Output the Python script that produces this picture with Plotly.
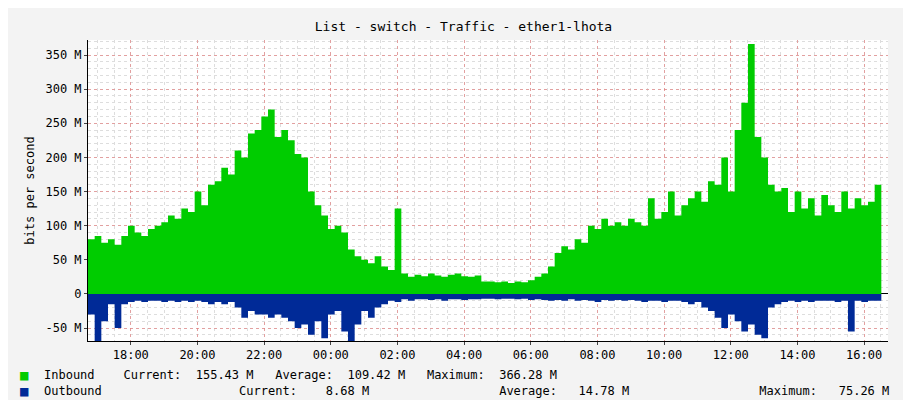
import plotly.graph_objects as go
import pandas as pd

inbound = [80,85,75,80,72,85,100,90,85,95,100,105,115,110,125,120,150,130,160,165,
           185,175,210,200,235,240,260,270,230,240,225,205,200,150,130,115,95,100,90,65,
           55,50,45,55,40,35,125,30,25,28,26,30,27,25,28,30,26,25,27,18,
           18,17,18,16,18,17,20,25,30,40,60,70,65,80,75,100,95,110,100,105,
           100,110,105,100,140,110,120,150,115,130,140,150,135,165,160,200,150,240,280,366,
           230,200,160,150,155,120,150,125,140,115,145,130,120,150,125,140,130,135,160,155]
outbound = [-30,-70,-40,-15,-50,-15,-12,-10,-12,-10,-10,-12,-10,-12,-10,-12,-10,-12,-15,-12,
            -15,-12,-20,-35,-25,-30,-30,-35,-30,-35,-40,-50,-45,-60,-40,-65,-30,-25,-55,-70,
            -45,-25,-35,-20,-15,-10,-12,-8,-10,-8,-8,-9,-8,-10,-8,-8,-9,-8,-8,-7,
            -7,-8,-7,-7,-8,-7,-9,-8,-9,-10,-9,-10,-8,-10,-9,-10,-12,-9,-10,-9,
            -10,-9,-10,-12,-10,-10,-12,-10,-10,-12,-15,-12,-20,-25,-35,-50,-30,-40,-55,-45,
            -60,-65,-20,-15,-12,-10,-12,-10,-12,-10,-10,-10,-12,-10,-55,-10,-12,-10,-10,-9]
times = pd.date_range("2024-01-01 16:43", periods=len(inbound), freq="12min")
tickvals = pd.date_range("2024-01-01 18:00", periods=12, freq="2h")
ticktext = ["18:00","20:00","22:00","00:00","02:00","04:00","06:00","08:00","10:00","12:00","14:00","16:00"]
yticks = [-50,0,50,100,150,200,250,300,350]
yticklabels = ["-50 M","0","50 M","100 M","150 M","200 M","250 M","300 M","350 M"]

mono = "DejaVu Sans Mono"
fig = go.Figure()
fig.add_trace(go.Scatter(x=times, y=inbound, mode="lines", line=dict(color="#00CC00", width=0, shape="hv"),
                         fill="tozeroy", fillcolor="#00CC00"))
fig.add_trace(go.Scatter(x=times, y=outbound, mode="lines", line=dict(color="#002A97", width=0, shape="hv"),
                         fill="tozeroy", fillcolor="#002A97"))
fig.update_layout(
    width=911, height=400, showlegend=False,
    paper_bgcolor="#F3F3F3", plot_bgcolor="#FFFFFF",
    margin=dict(l=80, r=31, t=32, b=67, autoexpand=False),
    font=dict(family=mono, size=12, color="#000"),
    title=dict(text="List - switch - Traffic - ether1-lhota", x=0.5, y=0.965, xanchor="center",
               font=dict(family=mono, size=13)),
    xaxis=dict(range=[pd.Timestamp("2024-01-01 16:43"), pd.Timestamp("2024-01-02 16:43")],
               tickvals=tickvals, ticktext=ticktext, showgrid=True, gridcolor="rgba(230,120,120,0.6)",
               griddash="dot", ticks="outside", ticklen=3, showline=True, linecolor="#000",
               minor=dict(dtick=1800000, showgrid=True, gridcolor="#DDDDDD", griddash="dot"),
               zeroline=False, automargin=False),
    yaxis=dict(range=[-69, 372], tickvals=yticks, ticktext=yticklabels, showgrid=True,
               gridcolor="rgba(230,120,120,0.6)", griddash="dot", ticks="outside", ticklen=3,
               minor=dict(dtick=10, showgrid=True, gridcolor="#DDDDDD", griddash="dot"),
               zeroline=True, zerolinecolor="#000", zerolinewidth=1, showline=True, linecolor="#000",
               automargin=False,
               title=dict(text="bits per second", font=dict(family=mono, size=12), standoff=8)),
)
fig.add_annotation(text="RRDTOOL / TOBI OETIKER", textangle=90, x=1.029, y=1.02, xref="paper", yref="paper",
                   xanchor="center", yanchor="top", showarrow=False,
                   font=dict(family=mono, size=7, color="#AAAAAA"))
for y, col, txt in [(-0.113, "#00CC00", "Inbound    Current:  155.43 M   Average:  109.42 M   Maximum:  366.28 M"),
                    (-0.166, "#002A97", "Outbound                   Current:    8.68 M                  Average:   14.78 M                  Maximum:   75.26 M")]:
    fig.add_annotation(text="■", x=-0.0875, y=y, xref="paper", yref="paper", xanchor="left", yanchor="middle",
                       showarrow=False, font=dict(family=mono, size=14, color=col))
    fig.add_annotation(text=txt, x=-0.0575, y=y, xref="paper", yref="paper", xanchor="left", yanchor="middle",
                       showarrow=False, font=dict(family=mono, size=12))
fig.write_html("out.html")
